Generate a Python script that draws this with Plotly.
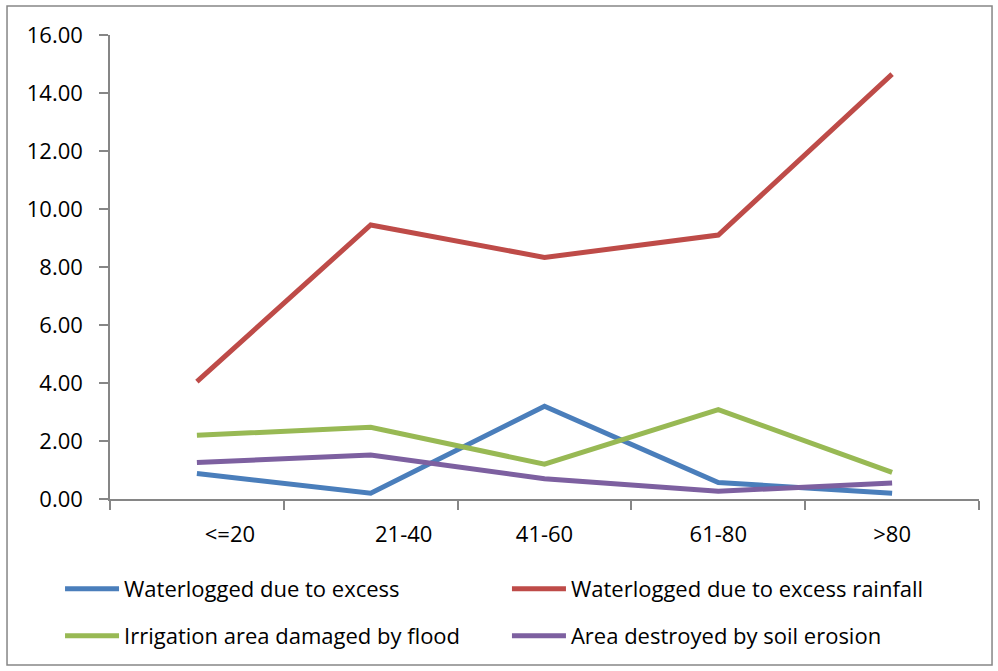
import plotly.graph_objects as go

categories = ["<=20", "21-40", "41-60", "61-80", ">80"]
label_pos = [0.19, 1.19, 2, 3, 4]
x_idx = [0, 1, 2, 3, 4]

waterlogged_excess = [0.88, 0.20, 3.20, 0.57, 0.20]
waterlogged_rainfall = [4.05, 9.45, 8.33, 9.10, 14.65]
irrigation_flood = [2.20, 2.47, 1.20, 3.08, 0.92]
soil_erosion = [1.26, 1.52, 0.70, 0.27, 0.55]

series = [
    ("Waterlogged due to excess", waterlogged_excess, "#4A7EBB"),
    ("Waterlogged due to excess rainfall", waterlogged_rainfall, "#BE4B48"),
    ("Irrigation area damaged by flood", irrigation_flood, "#98B954"),
    ("Area destroyed by soil erosion", soil_erosion, "#7D60A0"),
]
legend_ids = ["legend", "legend2", "legend3", "legend4"]
legend_xy = [(-0.0575, -0.194), (0.4568, -0.194), (-0.0575, -0.295), (0.4568, -0.295)]

FONT = "Open Sans"

fig = go.Figure()
for (name, vals, color), lid in zip(series, legend_ids):
    fig.add_trace(go.Scatter(x=x_idx, y=vals, mode="lines", name=name, legend=lid,
                             line=dict(color=color, width=5)))

layout_legends = {}
for lid, (lx, ly) in zip(legend_ids, legend_xy):
    layout_legends[lid] = dict(x=lx, y=ly, xanchor="left", yanchor="middle",
                               itemwidth=54, font=dict(family=FONT, size=22, color="black"),
                               bgcolor="rgba(0,0,0,0)")

fig.update_layout(
    width=998, height=671,
    margin=dict(l=110, r=19, t=35, b=172),
    paper_bgcolor="white", plot_bgcolor="white",
    font=dict(family=FONT, size=20, color="black"),
    showlegend=True,
    xaxis=dict(range=[-0.5, 4.5], tickvals=label_pos, ticktext=categories,
               ticks="", showgrid=False, zeroline=False, showline=True,
               linecolor="#868686", linewidth=1.5, ticklabelstandoff=15,
               tickfont=dict(family=FONT, size=22),
               minor=dict(tickvals=[-0.5, 0.5, 1.5, 2.5, 3.5, 4.5], ticks="outside",
                          ticklen=9, tickcolor="#868686", tickwidth=1.5, showgrid=False)),
    yaxis=dict(range=[0, 16], dtick=2, tickformat=".2f", ticks="outside",
               ticklen=9, tickcolor="#868686", tickwidth=1.5, showgrid=False,
               zeroline=False, showline=True, linecolor="#868686", linewidth=1.5,
               ticklabelstandoff=12, tickfont=dict(family=FONT, size=22)),
    **layout_legends,
)

fig.add_shape(type="rect", xref="paper", yref="paper",
              x0=-0.1185, x1=1.015, y0=-0.358, y1=1.0625,
              line=dict(color="#868686", width=1.5), fillcolor="rgba(0,0,0,0)")

fig.write_html("out.html")
